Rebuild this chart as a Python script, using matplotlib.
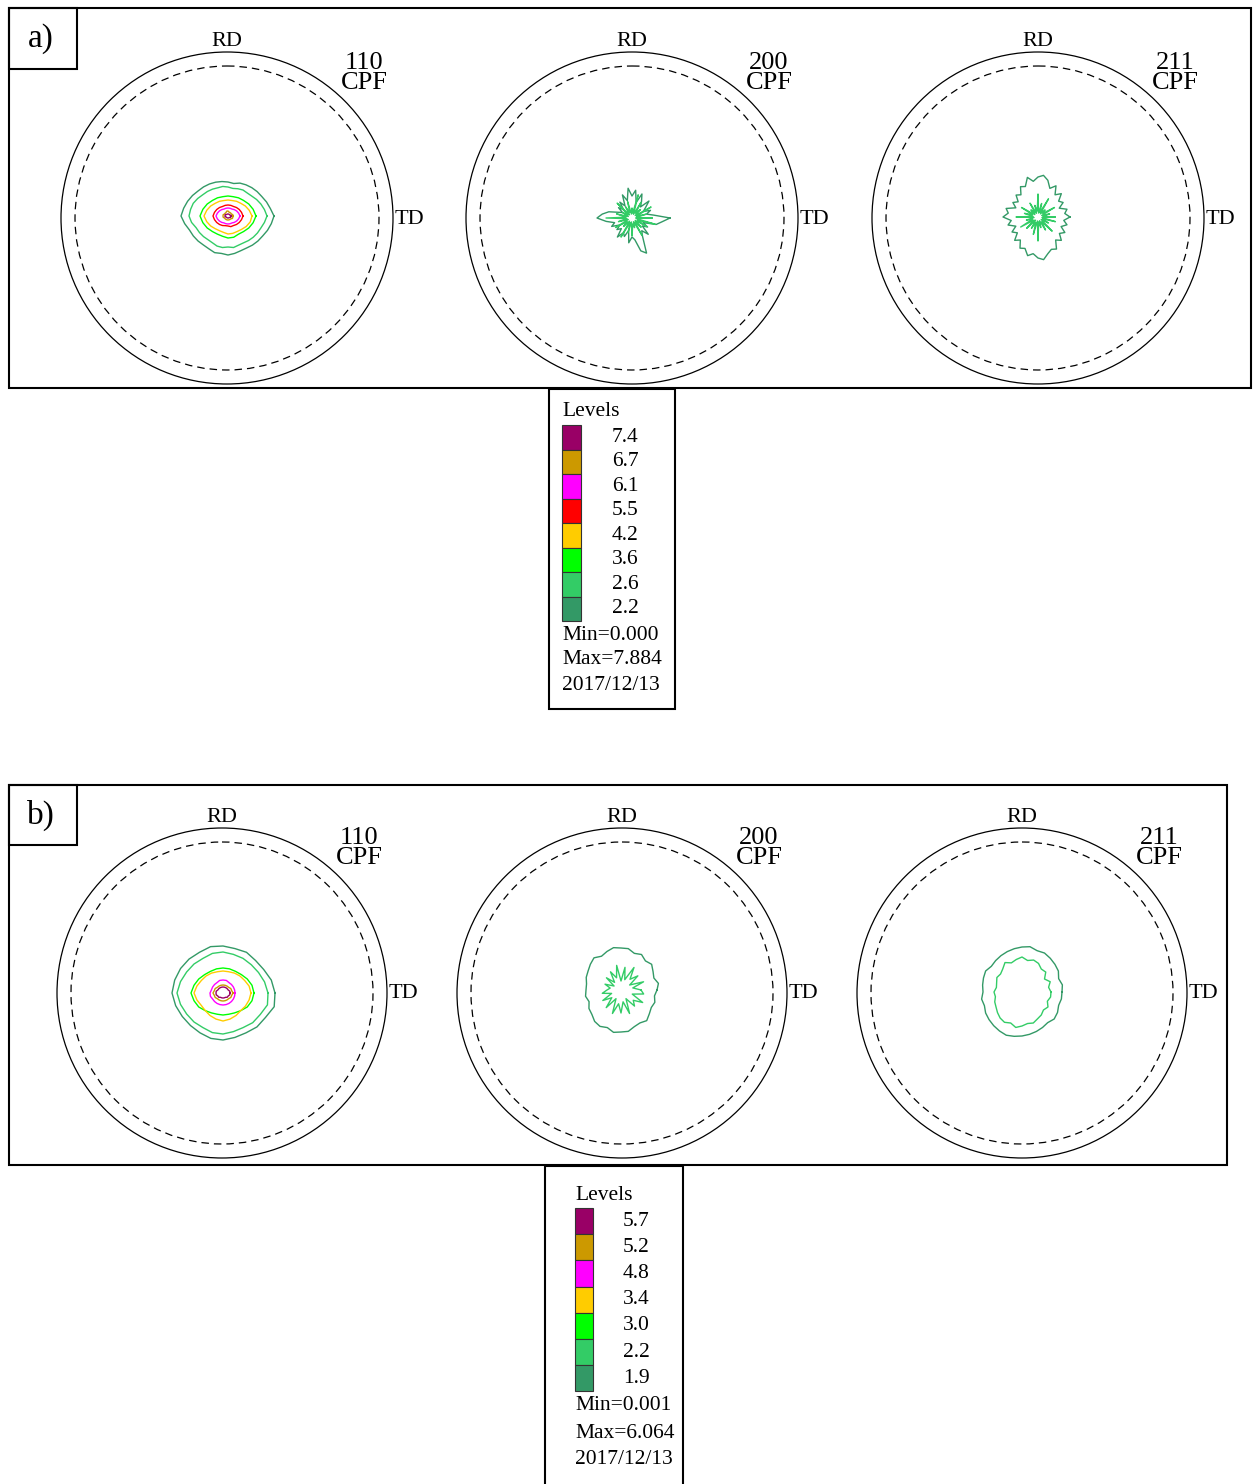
import numpy as np
import matplotlib.pyplot as plt
from matplotlib.patches import Circle, Rectangle

plt.rcParams['font.family'] = ['Liberation Serif', 'DejaVu Serif']

# ---- data -------------------------------------------------------------
poles = ['110', '200', '211']

levels_a = [7.4, 6.7, 6.1, 5.5, 4.2, 3.6, 2.6, 2.2]
colors_a = ['#990066', '#cc9900', '#ff00ff', '#ff0000', '#ffcc00', '#00ff00', '#33cc66', '#339966']
stats_a = ['Min=0.000', 'Max=7.884', '2017/12/13']

levels_b = [5.7, 5.2, 4.8, 3.4, 3.0, 2.2, 1.9]
colors_b = ['#990066', '#cc9900', '#ff00ff', '#ffcc00', '#00ff00', '#33cc66', '#339966']
stats_b = ['Min=0.001', 'Max=6.064', '2017/12/13']

# contour radii (pixels) at equal angles, counter-clockwise from TD
# panel a, 110 pole figure
a110 = {
    2.2: [46, 43, 41, 39, 38, 37, 36, 35, 33, 34, 35, 36, 37, 38, 39, 41, 43, 45,
          47, 44, 41, 40, 39, 38, 38, 39, 38, 39, 38, 37, 37, 38, 39, 40, 42, 44],
    2.6: [39, 37, 35, 33, 31, 30, 30, 29, 28, 29, 30, 30, 31, 32, 33, 35, 37, 38,
          39, 37, 34, 33, 32, 31, 31, 32, 32, 31, 32, 31, 31, 32, 33, 34, 35, 37],
    3.6: [28, 26, 24, 22, 21, 20, 20, 20, 21, 22, 24, 26, 28, 26, 24, 22, 21, 21, 22, 22, 21, 22, 24, 26],
    4.2: [24, 22, 20, 18, 17, 16, 16, 16, 17, 18, 20, 22, 24, 22, 20, 18, 17, 17, 18, 18, 18, 19, 21, 23],
    5.5: [15, 14, 13, 12, 11, 11, 11, 11, 11, 12, 13, 14, 15, 14, 13, 12, 11, 10, 10, 11, 11, 12, 13, 14],
    6.1: [12, 11, 10, 9, 8, 8, 8, 8, 8, 9, 10, 11, 12, 11, 10, 9, 8, 8, 8, 8, 8, 9, 10, 11],
    6.7: [5, 5, 4, 4, 4, 4, 5, 5, 4, 4, 4, 5, 5, 5, 4, 4, 4, 4, 4, 4, 4, 4, 5, 5],
    7.4: [3, 3, 2, 2, 2, 2, 2, 2, 2, 2, 3, 3, 3, 3, 2, 2, 2, 2, 2, 2, 2, 2, 3, 3],
}
# panel a, 200 pole figure
a200 = {
    2.2: [38, 22, 15, 20, 13, 17, 24, 14, 19, 26, 16, 28, 22, 30, 18, 25, 14, 20, 12, 17, 11, 15, 24, 30,
          35, 26, 18, 22, 14, 19, 15, 24, 17, 20, 13, 25, 19, 22, 34, 38, 21, 16, 23, 13, 18, 12, 25, 30],
    2.6: [20, 4, 15, 5, 22, 4, 12, 6, 18, 4, 24, 5, 10, 4, 17, 6, 13, 4, 21, 5, 11, 4, 16, 6,
          26, 5, 14, 4, 19, 6, 12, 4, 22, 5, 15, 4, 18, 6, 10, 4, 20, 5, 13, 4, 17, 6, 24, 4],
}
# panel a, 211 pole figure
a211 = {
    2.2: [32, 27, 30, 23, 29, 26, 33, 28, 36, 31, 38, 42, 40, 36, 41, 33, 35, 28, 31, 25, 29, 24, 33, 30,
          35, 27, 31, 24, 30, 26, 33, 29, 36, 34, 40, 37, 41, 43, 38, 35, 37, 29, 33, 27, 31, 25, 30, 26],
    2.6: [17, 5, 12, 4, 19, 6, 10, 4, 21, 5, 14, 4, 23, 6, 12, 4, 16, 5, 10, 4, 19, 6, 14, 5,
          22, 4, 12, 6, 20, 5, 16, 4, 13, 6, 18, 4, 24, 5, 11, 4, 15, 6, 20, 4, 12, 5, 18, 4],
}
# panel b, 110 pole figure
b110 = {
    1.9: [52, 50, 47, 46, 47, 46, 47, 48, 47, 48, 49, 50, 51, 49, 47, 46, 46, 47, 47, 46, 46, 48, 49, 53],
    2.2: [45, 43, 41, 40, 40, 40, 41, 41, 40, 41, 42, 44, 46, 44, 42, 41, 40, 41, 41, 40, 40, 42, 43, 46],
    3.0: [31, 30, 28, 26, 25, 25, 25, 25, 25, 26, 28, 30, 32, 30, 28, 25, 23, 22, 22, 22, 23, 25, 28, 30],
    3.4: [28, 27, 25, 24, 23, 22, 22, 22, 23, 24, 25, 27, 29, 27, 25, 25, 26, 27, 28, 27, 26, 25, 26, 27],
    4.8: [12, 12, 12, 12, 12, 13, 13, 13, 12, 12, 12, 12, 13, 13, 12, 12, 12, 12, 12, 12, 12, 12, 12, 12],
    5.2: [10, 9, 9, 8, 8, 8, 8, 8, 8, 8, 9, 9, 10, 9, 9, 8, 8, 8, 8, 8, 8, 8, 9, 9],
    5.7: [7, 7, 6, 6, 6, 6, 6, 6, 6, 6, 6, 7, 7, 7, 6, 6, 5, 5, 5, 5, 5, 6, 6, 7],
}
# panel b, 200 pole figure
b200 = {
    1.9: [36, 38, 35, 37, 40, 38, 41, 39, 42, 42, 43, 41, 39, 42, 40, 38, 37, 35,
          35, 36, 34, 37, 38, 41, 42, 40, 43, 42, 42, 39, 38, 40, 37, 35, 36, 34],
    2.2: [20, 12, 24, 10, 22, 14, 26, 11, 23, 9, 25, 13, 21, 10, 19, 8, 17, 11,
          14, 19, 10, 21, 12, 23, 10, 25, 14, 23, 12, 25, 10, 21, 16, 25, 12, 23],
}
# panel b, 211 pole figure
b211 = {
    1.9: [40, 41, 39, 42, 43, 44, 45, 44, 46, 45, 44, 43, 42, 41, 40, 42, 41, 40,
          39, 41, 40, 42, 43, 44, 45, 46, 45, 44, 43, 42, 41, 40, 42, 41, 39, 40],
    2.2: [29, 27, 30, 26, 31, 30, 33, 34, 32, 35, 33, 31, 34, 30, 28, 29, 27, 26,
          28, 27, 29, 30, 32, 34, 35, 33, 36, 34, 32, 33, 31, 30, 28, 30, 27, 29],
}

# ---- layout (pixels) --------------------------------------------------
W, H = 1256, 1484
fig = plt.figure(figsize=(W / 100, H / 100), dpi=100)
ax = fig.add_axes([0, 0, 1, 1])
ax.set_xlim(0, W)
ax.set_ylim(H, 0)
ax.axis('off')

panels = [
    dict(label='a)', box=(9, 8, 1242, 380), tag=(9, 8, 68, 61),
         centers=[(227, 218), (632, 218), (1038, 218)], R=166,
         off=[(1, -2), (0, 0), (0, -1)],
         data=[a110, a200, a211], levels=levels_a, colors=colors_a),
    dict(label='b)', box=(9, 785, 1218, 380), tag=(9, 785, 68, 60),
         centers=[(222, 993), (622, 993), (1022, 993)], R=165,
         off=[(1, 0), (-1, -3), (0, -1)],
         data=[b110, b200, b211], levels=levels_b, colors=colors_b),
]

for p in panels:
    x0, y0, w, h = p['box']
    ax.add_patch(Rectangle((x0, y0), w, h, fill=False, ec='black', lw=1.5))
    tx, ty, tw, th = p['tag']
    ax.add_patch(Rectangle((tx, ty), tw, th, fill=False, ec='black', lw=1.5))
    ax.text(tx + tw / 2 - 2, ty + th / 2, p['label'], fontsize=24, ha='center', va='center')
    lvl_col = dict(zip(p['levels'], p['colors']))
    R = p['R']
    for (cx, cy), (dx, dy), name, cont in zip(p['centers'], p['off'], poles, p['data']):
        ax.add_patch(Circle((cx, cy), R, fill=False, ec='black', lw=0.9))
        ax.add_patch(Circle((cx, cy), R - 14, fill=False, ec='black', lw=0.9, ls=(0, (6, 4))))
        ax.text(cx, cy - R - 11, 'RD', fontsize=16, ha='center', va='center')
        ax.text(cx + R + 2, cy + 1, 'TD', fontsize=16, ha='left', va='center')
        ax.text(cx + 137, cy - 145, name + '\nCPF', fontsize=19, ha='center', va='center',
                linespacing=0.9)
        for lv, radii in cont.items():
            r = np.array(radii + radii[:1], dtype=float)
            t = np.linspace(0, 2 * np.pi, len(r))
            ax.plot(cx + dx + r * np.cos(t), cy + dy - r * np.sin(t),
                    color=lvl_col[lv], lw=1.0)

# ---- legends ----------------------------------------------------------
legends = [
    dict(box=(549, 389, 126, 320), x=562, top=425, step=24.5, sw=19,
         tx=625, levels=levels_a, colors=colors_a, stats=stats_a, sy=[635, 660, 686]),
    dict(box=(545, 1166, 138, 330), x=575, top=1208, step=26.2, sw=18,
         tx=636, levels=levels_b, colors=colors_b, stats=stats_b, sy=[1406, 1433, 1460]),
]
for L in legends:
    bx, by, bw, bh = L['box']
    ax.add_patch(Rectangle((bx, by), bw, bh, fill=False, ec='black', lw=1.5, clip_on=False))
    ax.text(L['x'], L['top'] - 13, 'Levels', fontsize=15.5, ha='left', va='center')
    for i, (lv, c) in enumerate(zip(L['levels'], L['colors'])):
        yy = L['top'] + i * L['step']
        ax.add_patch(Rectangle((L['x'], yy), L['sw'], L['step'], fc=c, ec='#333333', lw=0.8))
        ax.text(L['tx'], yy + L['step'] / 2, f'{lv:.1f}', fontsize=15.5, ha='center', va='center')
    for s, yy in zip(L['stats'], L['sy']):
        ax.text(L['x'], yy, s, fontsize=15.5, ha='left', va='center')

fig.savefig('out.png', dpi=100)
